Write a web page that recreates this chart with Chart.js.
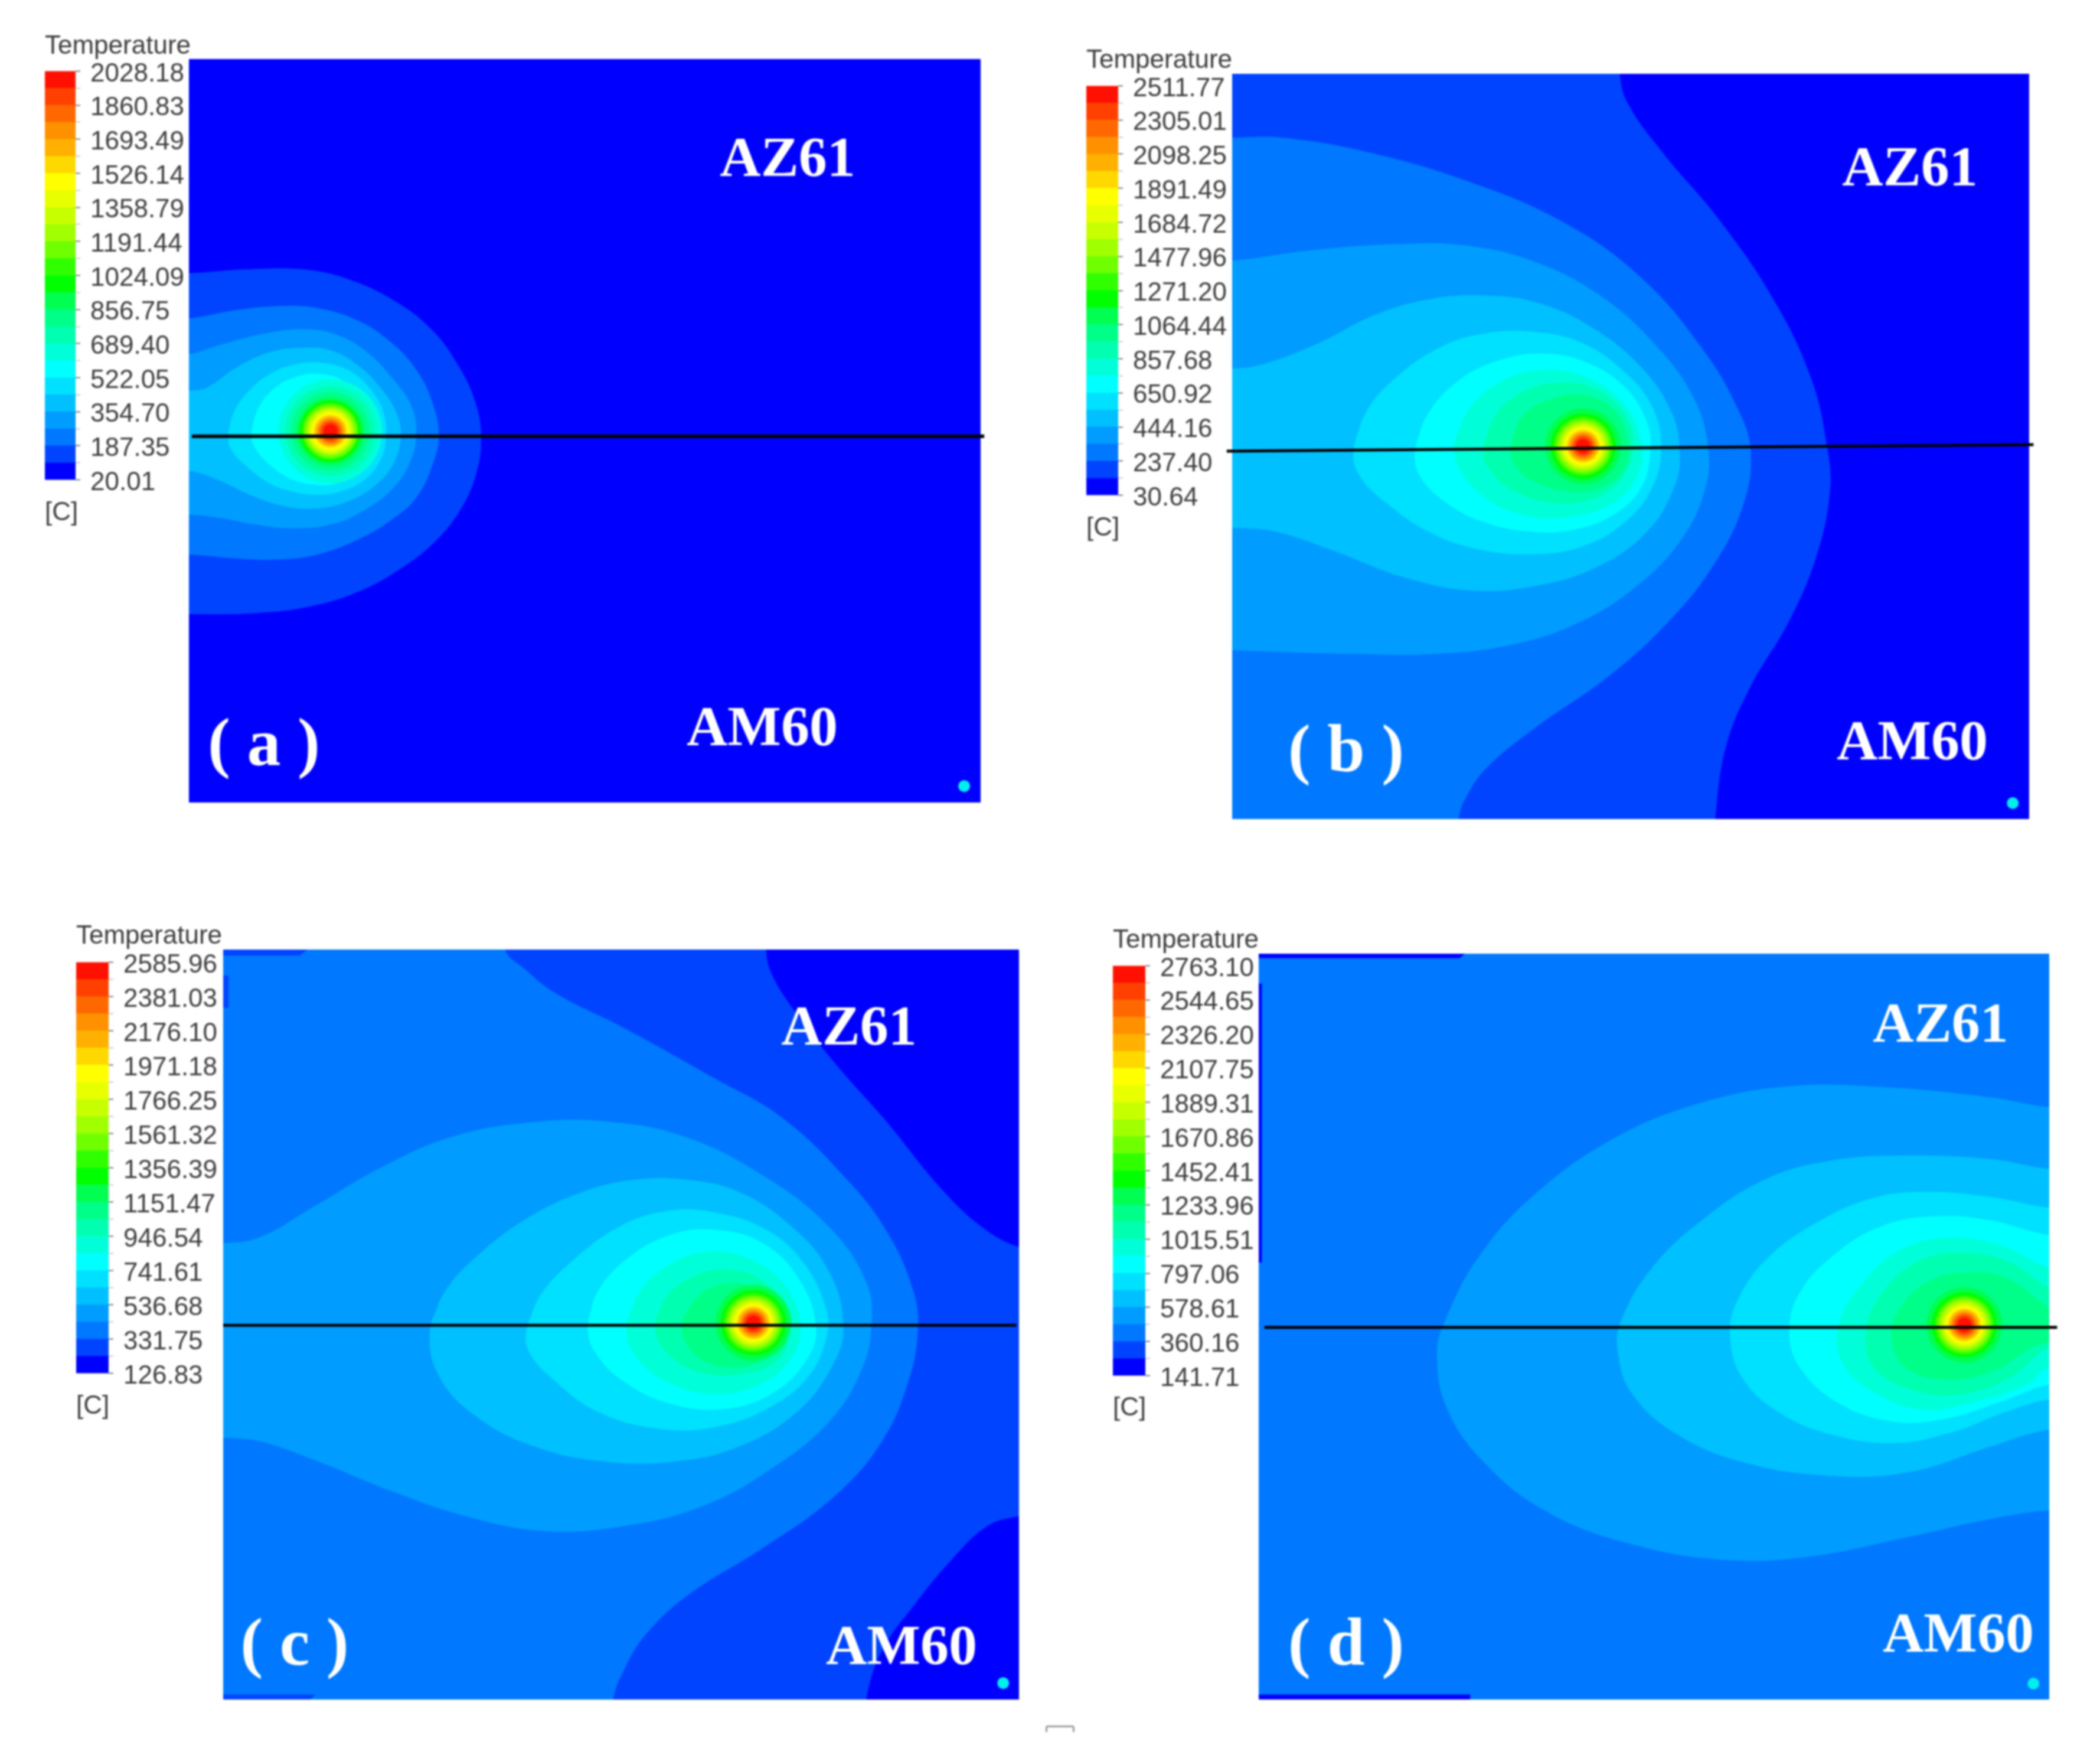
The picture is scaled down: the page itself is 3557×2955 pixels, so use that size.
<!DOCTYPE html>
<html><head><meta charset="utf-8">
<script src="https://cdn.jsdelivr.net/npm/chart.js@4"></script>
<style>
html,body{margin:0;padding:0;background:#fff;}
#root{position:relative;width:3557px;height:2955px;overflow:hidden;background:#fff;filter:blur(1.7px);}
canvas{position:absolute;display:block;}
.t{position:absolute;white-space:pre;line-height:1;transform:translate(-50%,-50%);}
.serif{font-family:"Liberation Serif";font-weight:bold;color:#fff;font-size:96px;}
.tag{font-family:"Liberation Serif";font-weight:bold;color:#fff;font-size:114px;}
.sans{font-family:"Liberation Sans";color:#3c3c3c;font-size:44px;transform:translate(0,-50%);}
#mark{position:absolute;left:1771px;top:2922px;width:43px;height:8px;border:3px solid #999;border-bottom:none;border-radius:4px 4px 0 0;}
</style></head><body><div id="root"></div>
<script>
// ---------- DATA ----------
const bandColors = ['#0000ff','#0044ff','#0078ff','#009cff','#00c0ff','#00e0ff','#00ffff','#00ffd8','#00ffb0','#00ff88','#00ff50','#00ff00',
  '#30ff00','#70ff00','#a0ff00','#c8ff00','#e8ff00','#ffff00','#ffd800','#ffb000','#ff9000','#ff6800','#ff4000','#ff1000'];

const ticksA = ['2028.18','1860.83','1693.49','1526.14','1358.79','1191.44','1024.09','856.75','689.40','522.05','354.70','187.35','20.01'];
const ticksB = ['2511.77','2305.01','2098.25','1891.49','1684.72','1477.96','1271.20','1064.44','857.68','650.92','444.16','237.40','30.64'];
const ticksC = ['2585.96','2381.03','2176.10','1971.18','1766.25','1561.32','1356.39','1151.47','946.54','741.61','536.68','331.75','126.83'];
const ticksD = ['2763.10','2544.65','2326.20','2107.75','1889.31','1670.86','1452.41','1233.96','1015.51','797.06','578.61','360.16','141.71'];

// Contours: [colour band, outline points]
const contoursA = [
 [1,[[-200,100],[52,100],[300,85],[560,85],[760,125],[960,210],[1130,330],[1250,480],[1320,620],[1345,755],[1325,900],[1260,1040],[1150,1170],[1000,1280],[800,1380],[580,1440],[350,1465],[52,1470],[-200,1470]]],
 [2,[[-200,290],[52,282],[250,250],[450,232],[620,240],[800,290],[950,380],[1060,490],[1130,620],[1158,755],[1130,870],[1060,1000],[950,1090],[800,1170],[620,1230],[450,1250],[250,1245],[52,1230],[-200,1225]]],
 [3,[[-200,440],[52,425],[200,385],[400,340],[560,325],[700,345],[830,410],[960,530],[1040,640],[1058,755],[1030,860],[960,960],[850,1040],[700,1105],[520,1125],[350,1110],[200,1085],[52,1070],[-200,1065]]],
 [4,[[-200,580],[52,572],[130,560],[260,480],[400,420],[540,400],[680,410],[800,470],[900,560],[970,660],[990,755],[960,860],[880,950],[760,1015],[620,1045],[470,1035],[320,990],[180,930],[52,895],[-200,885]]],
 [5,[[225,755],[250,660],[320,570],[420,500],[530,465],[640,460],[760,490],[850,560],[910,650],[925,755],[900,850],[830,930],[730,975],[620,990],[500,975],[400,940],[300,870],[240,810],[225,755],[250,660]]],
 [6,[[328,755],[350,660],[420,570],[530,515],[640,505],[740,535],[830,610],[870,700],[880,755],[860,830],[800,900],[700,945],[610,950],[500,925],[410,870],[350,810],[328,755],[350,660]]]
];
const contoursB = [
 [1,[[750,-50],[750,30],[765,90],[830,190],[930,320],[1030,480],[1100,640],[1130,780],[1135,870],[1110,1000],[1060,1130],[990,1260],[945,1380],[925,1527],[925,1600],[-200,1600],[-200,-50]]],
 [2,[[-200,158],[40,158],[130,158],[280,185],[470,245],[650,330],[790,440],[900,580],[965,700],[990,790],[975,900],[920,1020],[840,1130],[730,1240],[600,1340],[510,1420],[470,1480],[455,1527],[455,1600],[-200,1600]]],
 [3,[[-200,415],[40,405],[180,385],[340,372],[470,375],[600,410],[720,480],[820,580],[885,680],[912,780],[905,870],[860,970],[780,1060],[680,1130],[560,1175],[420,1195],[250,1195],[40,1188],[-200,1180]]],
 [4,[[-200,630],[40,622],[100,612],[200,570],[300,515],[400,483],[500,475],[600,490],[700,540],[790,620],[845,710],[860,790],[850,860],[800,950],[710,1020],[600,1058],[480,1068],[350,1040],[230,990],[120,950],[40,942],[-200,930]]],
 [5,[[262,790],[285,710],[340,640],[420,580],[500,552],[590,548],[680,570],[760,630],[810,700],[826,780],[810,860],[760,930],[680,980],[590,995],[490,985],[400,950],[320,890],[275,840],[262,790],[285,710]]],
 [6,[[375,790],[395,720],[450,650],[530,605],[610,592],[690,610],[760,660],[800,730],[806,790],[790,860],[740,915],[670,945],[590,950],[500,930],[430,890],[385,840],[375,790],[395,720]]],
 [7,[[447,790],[470,710],[530,650],[610,625],[690,640],[755,690],[788,760],[785,830],[740,890],[660,920],[570,915],[490,870],[447,790],[470,710]]],
 [8,[[500,790],[520,720],[570,670],[640,650],[710,665],[760,715],[775,780],[755,840],[710,880],[640,893],[560,870],[515,830],[500,790],[520,720]]],
 [9,[[550,785],[570,720],[620,685],[680,675],[735,700],[765,760],[760,820],[720,860],[660,870],[595,850],[560,820],[550,785],[570,720]]]
];
const contoursC = [
 [1,[[1050,-50],[1050,33],[1060,80],[1100,150],[1180,260],[1280,380],[1380,510],[1460,590],[1530,630],[1600,640],[1600,1160],[1530,1170],[1470,1190],[1400,1260],[1330,1350],[1270,1440],[1240,1538],[1240,1600],[-200,1600],[-200,-50]]],
 [2,[[555,-50],[555,33],[590,70],[650,120],[780,190],[950,290],[1080,370],[1200,490],[1280,600],[1330,720],[1338,800],[1320,900],[1270,1020],[1180,1130],[1050,1230],[900,1330],[820,1410],[780,1480],[760,1538],[760,1600],[-200,1600],[-200,-50]]],
 [3,[[-200,630],[20,622],[90,610],[190,550],[320,470],[450,410],[600,380],[750,378],[900,410],[1050,490],[1170,590],[1240,700],[1250,790],[1230,880],[1170,980],[1060,1075],[930,1150],[780,1190],[630,1200],[480,1170],[340,1120],[200,1060],[90,1020],[20,1013],[-200,1005]]],
 [4,[[412,800],[440,720],[510,640],[600,570],[700,520],[800,495],[900,495],[1000,520],[1100,590],[1170,680],[1197,790],[1175,870],[1110,960],[1000,1030],[880,1060],[740,1060],[610,1030],[500,970],[430,890],[412,800],[440,720]]],
 [5,[[595,800],[620,730],[680,660],[770,590],[860,558],[950,560],[1050,595],[1120,660],[1163,750],[1165,810],[1130,890],[1060,950],[960,990],[850,995],[730,960],[640,890],[600,840],[595,800],[620,730]]],
 [6,[[712,790],[730,720],[790,650],[870,605],[950,595],[1040,620],[1110,690],[1145,790],[1125,860],[1060,925],[970,955],[870,945],[780,900],[725,840],[712,790],[730,720]]],
 [7,[[785,790],[810,720],[860,670],[930,640],[1010,650],[1080,700],[1115,780],[1100,850],[1040,905],[950,925],[860,900],[800,845],[785,790],[810,720]]],
 [8,[[840,790],[860,730],[910,690],[970,675],[1040,695],[1085,750],[1095,800],[1070,860],[1000,885],[920,880],[860,840],[840,790],[860,730]]],
 [9,[[890,790],[915,735],[965,705],[1020,710],[1070,760],[1075,820],[1040,860],[970,870],[915,845],[890,790],[915,735]]]
];
const contoursD = [
 [3,[[1600,340],[1513,338],[1400,318],[1200,298],[1020,296],[850,330],[680,405],[530,520],[430,640],[370,760],[352,830],[370,940],[440,1050],[560,1150],[720,1215],[900,1247],[1060,1240],[1250,1200],[1400,1165],[1513,1147],[1600,1147]]],
 [4,[[1600,465],[1513,462],[1400,442],[1230,435],[1100,445],[980,480],[860,560],[760,660],[700,770],[695,830],[720,910],[800,990],[930,1050],[1100,1078],[1250,1070],[1400,1020],[1513,985],[1600,985]]],
 [5,[[1600,545],[1513,540],[1400,518],[1280,508],[1180,520],[1080,565],[980,640],[920,730],[908,800],[930,880],[1000,950],[1100,995],[1220,1012],[1330,990],[1430,950],[1513,925],[1600,925]]],
 [6,[[1600,600],[1513,595],[1400,565],[1300,557],[1200,575],[1110,630],[1040,710],[1020,790],[1040,860],[1110,930],[1210,968],[1310,965],[1420,930],[1513,895],[1600,890]]],
 [7,[[1600,680],[1513,660],[1420,615],[1320,600],[1230,625],[1160,690],[1115,770],[1120,850],[1180,910],[1270,945],[1370,930],[1470,895],[1513,860],[1600,850]]],
 [8,[[1600,720],[1513,700],[1440,650],[1350,630],[1260,650],[1190,720],[1165,790],[1180,860],[1250,905],[1340,915],[1440,880],[1513,820],[1600,810]]],
 [9,[[1590,780],[1513,740],[1430,680],[1350,670],[1280,690],[1225,750],[1215,810],[1240,860],[1310,885],[1400,870],[1480,820]]]
];
// Thin dark strips along the edges (straight outlines)
const stripsC = [
 [1,[[20,33],[180,33],[165,45],[20,45]]],
 [1,[[20,1528],[195,1528],[185,1538],[20,1538]]],
 [1,[[20,85],[30,85],[30,150],[20,150]]]
];
const stripsD = [
 [0,[[14,30],[405,30],[395,39],[14,39]]],
 [0,[[14,1517],[415,1517],[415,1527],[14,1527]]],
 [0,[[14,90],[20,90],[20,650],[14,650]]]
];
// Hot spot rings: colour band -> radius
const ringBandsA = [7,8,9,10,11,12,13,14,15,16,17,18,19,20,21,22,23];
const ringRadiiA = [88,76,66,57,52,48,45,41,38,35,31,28,25,22,19,16,12];
const ringBands = [10,11,12,13,14,15,16,17,18,19,20,21,22,23];
const ringRadii = [64,55,50,46,42,38,35,31,28,25,22,19,16,12];
// Hot spot centres, probe dots and section lines
const hotA = [678,735], hotB = [683,778], hotC = [1026,782], hotD = [1352,775];
const dotA = [3483,2160], dotB = [1470,1495], dotC = [1500,1505], dotD = [1483,1495];
const lineA = [[65,755],[3572,755]], lineB = [[30,788],[1508,775]], lineC = [[20,787],[1525,787]], lineD = [[25,780],[1528,780]];

// ---------- LAYOUT ----------
const panels = [
 {name:'a',box:[320,100,1661,1359],range:[52,3556,-760,2226],base:0,contours:contoursA,strips:[],rb:ringBandsA,rr:ringRadiiA,hot:hotA,dot:dotA,line:lineA,lw:6,
  ticks:ticksA,bar:[76,117,128,816],title:76,unit:866,
  az:[1334,266],am:[1291,1230],tag:[447,1257]},
 {name:'b',box:[2087,125,3437,1387],range:[40,1500,30,1527],base:0,contours:contoursB,strips:[],rb:ringBands,rr:ringRadii,hot:hotB,dot:dotB,line:lineB,lw:5,
  ticks:ticksB,bar:[1840,142,1894,842],title:100,unit:892,
  az:[3235,282],am:[3239,1254],tag:[2280,1268]},
 {name:'c',box:[378,1608,1726,2878],range:[20,1530,33,1538],base:0,contours:contoursC,strips:stripsC,rb:ringBands,rr:ringRadii,hot:hotC,dot:dotC,line:lineC,lw:5,
  ticks:ticksC,bar:[129,1626,184,2329],title:1583,unit:2379,
  az:[1438,1737],am:[1527,2786],tag:[499,2781]},
 {name:'d',box:[2132,1615,3471,2878],range:[14,1513,30,1527],base:2,contours:contoursD,strips:stripsD,rb:ringBands,rr:ringRadii,hot:hotD,dot:dotD,line:lineD,lw:5,
  ticks:ticksD,bar:[1885,1632,1940,2333],title:1590,unit:2382,
  az:[3287,1732],am:[3317,2765],tag:[2280,2781]}
];
const PAD = 20;
const root = document.getElementById('root');

function addCanvas(l,t,w,h){
  const c=document.createElement('canvas');
  c.width=w;c.height=h;c.style.left=l+'px';c.style.top=t+'px';c.style.width=w+'px';c.style.height=h+'px';
  root.appendChild(c);return c.getContext('2d');
}
function addText(cls,txt,x,y){
  const d=document.createElement('div');d.className='t '+cls;d.textContent=txt;d.style.left=x+'px';d.style.top=y+'px';root.appendChild(d);
}

const shapeFill = {
  id:'shapeFill',
  beforeDatasetsDraw(chart){
    const a=chart.chartArea,ctx=chart.ctx;
    ctx.save();ctx.fillStyle=chart.options.plugins.shapeFill.base;ctx.fillRect(a.left,a.top,a.right-a.left,a.bottom-a.top);ctx.restore();
  },
  beforeDatasetDraw(chart,args){
    const ds=chart.data.datasets[args.index];
    if(!ds.shape) return;
    const ctx=chart.ctx,a=chart.chartArea,line=args.meta.dataset;
    line.updateControlPoints(a,'x');
    ctx.save();
    ctx.beginPath();ctx.rect(a.left,a.top,a.right-a.left,a.bottom-a.top);ctx.clip();
    ctx.beginPath();line.path(ctx);ctx.closePath();
    ctx.fillStyle=ds.shapeColor;ctx.fill();
    ctx.restore();
  }
};

const toXY = p => ({x:p[0],y:p[1]});

panels.forEach(p=>{
  const [l,t,r,b]=p.box,[x0,x1,y0,y1]=p.range;
  const datasets=[];
  const shape=(band,pts,tension)=>datasets.push({type:'scatter',data:pts.map(toXY),showLine:true,shape:true,shapeColor:bandColors[band],
     borderWidth:0,borderColor:'rgba(0,0,0,0)',pointRadius:0,tension,capBezierPoints:false,fill:false});
  p.contours.forEach(c=>shape(c[0],c[1],0.4));
  p.strips.forEach(c=>shape(c[0],c[1],0));
  datasets.push({type:'bubble',data:p.rr.map(r=>({x:p.hot[0],y:p.hot[1],r})),radius:0,borderWidth:0,
     backgroundColor:p.rb.map(i=>bandColors[i])});
  datasets.push({type:'bubble',data:[{x:p.dot[0],y:p.dot[1],r:10}],radius:0,borderWidth:0,backgroundColor:['#00eeee']});
  datasets.push({type:'scatter',data:p.line.map(toXY),showLine:true,borderColor:'#000',borderWidth:p.lw,pointRadius:0,tension:0,clip:false,fill:false});
  datasets.forEach((d,i)=>{d.order=datasets.length-i;});
  new Chart(addCanvas(l-PAD,t-PAD,r-l+2*PAD,b-t+2*PAD),{
    type:'scatter',
    data:{datasets},
    plugins:[shapeFill],
    options:{responsive:false,animation:false,devicePixelRatio:1,
      layout:{padding:PAD,autoPadding:false},
      events:[],
      plugins:{legend:{display:false},tooltip:{enabled:false},shapeFill:{base:bandColors[p.base]}},
      scales:{x:{type:'linear',display:false,min:x0,max:x1},y:{type:'linear',display:false,reverse:true,min:y0,max:y1}}
    }
  });
  // colour bar
  const [bl,bt,br,bb]=p.bar;
  const vals=p.ticks.map(Number).reverse();
  const edges=[];
  vals.forEach((v,i)=>{edges.push(v);if(i<vals.length-1)edges.push((v+vals[i+1])/2);});
  const labelByValue={};p.ticks.forEach(s=>{labelByValue[Number(s)]=s;});
  const barDatasets=edges.slice(0,-1).map((e,i)=>({data:[[e,edges[i+1]]],backgroundColor:bandColors[i],borderWidth:0,barPercentage:1,categoryPercentage:1,grouped:false}));
  const vpad=40,axisW=192;
  new Chart(addCanvas(bl,bt-vpad,br-bl+axisW,bb-bt+2*vpad),{
    type:'bar',
    data:{labels:['Temperature'],datasets:barDatasets},
    options:{responsive:false,animation:false,devicePixelRatio:1,events:[],
      layout:{padding:{top:vpad,bottom:vpad-8,left:0,right:0},autoPadding:false},
      plugins:{legend:{display:false},tooltip:{enabled:false}},
      scales:{
        x:{display:false,grid:{display:false}},
        y:{position:'right',min:vals[0],max:vals[vals.length-1],
           afterBuildTicks:s=>{s.ticks=edges.map(v=>({value:v}));},
           afterFit:s=>{s.width=axisW;},
           border:{display:false},
           grid:{drawOnChartArea:false,drawTicks:true,tickLength:8,tickColor:c=>(c.index%2?'#c8c8c8':'#777'),tickWidth:2},
           ticks:{autoSkip:false,padding:17,labelOffset:5,color:'#3c3c3c',font:{family:'"Liberation Sans"',size:44},
             callback:v=>labelByValue[v]||''}
        }
      }
    }
  });
  addText('sans','Temperature',bl,p.title);
  addText('sans','[C]',bl,p.unit);
  addText('serif','AZ61',p.az[0],p.az[1]);
  addText('serif','AM60',p.am[0],p.am[1]);
  addText('tag','( '+p.name+' )',p.tag[0],p.tag[1]);
});
const mark=document.createElement('div');mark.id='mark';root.appendChild(mark);
</script></body></html>
